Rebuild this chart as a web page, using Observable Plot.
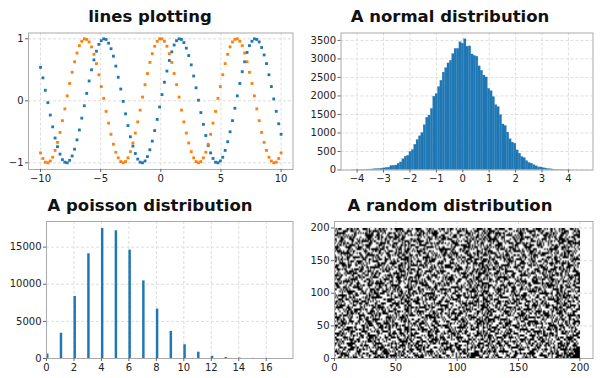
<!DOCTYPE html>
<html>
<head>
<meta charset="utf-8">
<script src="https://cdn.jsdelivr.net/npm/d3@7"></script>
<script src="https://cdn.jsdelivr.net/npm/@observablehq/plot@0.6"></script>
<style>
html,body{margin:0;padding:0;background:#fff;}
#root{position:relative;width:600px;height:378px;overflow:hidden;font-family:"DejaVu Sans",sans-serif;}
#root svg{position:absolute;background:transparent;}
.ttl{position:absolute;width:300px;text-align:center;font:bold 16.5px "DejaVu Sans",sans-serif;color:#111;white-space:nowrap;line-height:20px;}
</style>
</head>
<body>
<div id="root"></div>
<script>
const titles = ["lines plotting","A normal distribution","A poisson distribution","A random distribution"];

const lineX = [-10,-9.8,-9.6,-9.39,-9.19,-8.99,-8.79,-8.59,-8.38,-8.18,-7.98,-7.78,-7.58,-7.37,-7.17,-6.97,-6.77,-6.57,-6.36,-6.16,-5.96,-5.76,-5.56,-5.35,-5.15,-4.95,-4.75,-4.55,-4.34,-4.14,-3.94,-3.74,-3.54,-3.33,-3.13,-2.93,-2.73,-2.53,-2.32,-2.12,-1.92,-1.72,-1.52,-1.31,-1.11,-.91,-.71,-.51,-.3,-.1,.1,.3,.51,.71,.91,1.11,1.31,1.52,1.72,1.92,2.12,2.32,2.53,2.73,2.93,3.13,3.33,3.54,3.74,3.94,4.14,4.34,4.55,4.75,4.95,5.15,5.35,5.56,5.76,5.96,6.16,6.36,6.57,6.77,6.97,7.17,7.37,7.58,7.78,7.98,8.18,8.38,8.59,8.79,8.99,9.19,9.39,9.6,9.8,10];
const blueY = [.54,.37,.17,-.03,-.23,-.42,-.6,-.74,-.86,-.95,-.99,-1,-.96,-.89,-.78,-.63,-.47,-.28,-.08,.12,.32,.5,.66,.8,.91,.97,1,.99,.93,.84,.72,.56,.38,.19,-.01,-.21,-.4,-.58,-.73,-.85,-.94,-.99,-1,-.97,-.9,-.79,-.65,-.48,-.3,-.1,.1,.3,.48,.65,.79,.9,.97,1,.99,.94,.85,.73,.58,.4,.21,.01,-.19,-.38,-.56,-.72,-.84,-.93,-.99,-1,-.97,-.91,-.8,-.66,-.5,-.32,-.12,.08,.28,.47,.63,.78,.89,.96,1,.99,.95,.86,.74,.6,.42,.23,.03,-.17,-.37,-.54];
const orangeY = [-.84,-.93,-.99,-1,-.97,-.91,-.8,-.67,-.51,-.32,-.13,.08,.28,.46,.63,.77,.89,.96,1,.99,.95,.87,.75,.6,.42,.23,.04,-.17,-.36,-.54,-.7,-.83,-.92,-.98,-1,-.98,-.92,-.82,-.68,-.52,-.34,-.15,.06,.26,.44,.62,.76,.88,.96,1,1,.96,.88,.76,.62,.44,.26,.06,-.15,-.34,-.52,-.68,-.82,-.92,-.98,-1,-.98,-.92,-.83,-.7,-.54,-.36,-.17,.04,.23,.42,.6,.75,.87,.95,.99,1,.96,.89,.77,.63,.46,.28,.08,-.13,-.32,-.51,-.67,-.8,-.91,-.97,-1,-.99,-.93,-.84];

const normalLeft = [-4.18,-4.09,-4,-3.91,-3.82,-3.73,-3.64,-3.55,-3.46,-3.37,-3.28,-3.19,-3.1,-3.01,-2.92,-2.83,-2.74,-2.65,-2.56,-2.47,-2.38,-2.29,-2.2,-2.11,-2.02,-1.93,-1.84,-1.75,-1.66,-1.57,-1.48,-1.39,-1.3,-1.21,-1.12,-1.03,-.94,-.85,-.76,-.67,-.58,-.49,-.4,-.31,-.22,-.13,-.04,.05,.14,.23,.32,.41,.5,.59,.68,.77,.86,.95,1.04,1.13,1.22,1.31,1.4,1.49,1.58,1.67,1.76,1.85,1.94,2.03,2.12,2.21,2.3,2.39,2.48,2.57,2.66,2.75,2.84,2.93,3.02,3.11,3.2,3.29,3.38,3.47,3.56,3.65,3.74,3.83,3.92,4.01];
const normalCount = [1,1,1,2,4,5,8,12,14,20,24,27,37,45,58,62,110,115,120,170,205,290,360,385,490,540,680,810,910,1000,1210,1410,1470,1650,1980,2050,2240,2410,2630,2750,2880,2950,3130,3270,3270,3450,3410,3530,3330,3340,3120,3080,3060,2800,2680,2550,2500,2190,2130,1970,1750,1700,1480,1230,1190,1010,830,740,710,530,440,350,320,240,190,170,130,100,70,70,50,40,25,20,12,8,6,4,3,1,1,1];
const normalBinWidth = 0.09;

const poissonX = [0,1,2,3,4,5,6,7,8,9,10,11,12,13,14,15,16];
const poissonCount = [600,3400,8350,14100,17500,17200,14600,10450,6650,3650,1850,850,300,130,50,15,5];
const poissonBinWidth = 0.18;

// Panel 4: hand-typed hex rows (1 bit = 1 column). This is an approximation of the noise
// texture in the picture, not a cell-by-cell reading of it. Each cell takes a quarter of its
// right-hand neighbour, which gives the black, grey and white grain seen in the picture.
const noiseRows = [
"a3c94e17b25d80f6c1e97a346d2fb058e41c7a93d06b2e8f15",
"5e18b7d2093fca61e4728db5f0a6c3941be7d2580c9f36a1e4",
"c07f2a94e6b1358dd92a07c6f3e15b48a09d7c2e6f314b85da",
"16ad3f80c5e792b4a16f0e3d8c5972b1e4d06a3f89c2571be0",
"e9527bc1a4d0863ff5b2c9170de6a348cb1f9520d7e4a6368c",
"38f0d6a2e59b147ca3e8d610f7b52c94075eca1b3d86f209e7",
"b17ce4093da6f285106bf97e2ac4d35893d1e67f0ab52c8416",
"6a4d95f1c8270eb3e9c4a25b07f1d63eb86c3092fa5d7e1c40",
"d2b06e83f17a5c94381ed7f6c2095ab4e07fa3c6185d92eb36",
"0f83a1c7d64e29b5c7a05b3e9f8146d2a95c2be07d3f6184ad",
"97e5c2b4086fd1a36d2fe8013c9ab745f2168db4c7ea0395f6",
"42ca7f1e93b0d586a0b97c4e5d23f1687be4c09a16fd35e82b",
"e806d3a5f2c7914bf316ae8d07c5924a0db37f5e2c8169a4d7",
"7b51f9c04de2a638c9e74b12a6f0d385e6a1c98d430fb7251e",
"2dc6049ea7b3f1856f02d5b8e91c3a7cd0953ea74bf862c1a9",
"a94f7e32d18b6c05b74a1f9e36d0c2851ec8b06d2f95a37f40",
"35e8c1b60f9d27a4e1c83a5d7b264f09a7d42f1e8c63b0d597",
"f06ba2d7e4381c956d95f07c2eb1843ac3f96e0b57da1284ec",
"8c239d5fa16e70b4084eb6c1d3f7a9256b01e8dc4a372f9c15",
"1ea7f4c806d592b3f72c9a4068e5bd13946ac31f7d0be2586d",
"c53d08eb7a92f16431fa5d7ec06b92488d27f5b9e1c3064ae7",
"6f90b1a2ce47d835a6c0e41f93d7258bf1e03c6ba8d45792c1",
"d7421e6c93fb05a8e59db273fa0c6814c2a78f4d0e96b135f8",
"09bce58d37a1642fc1760fae5d92b8e356db1e02f7ca8934a0",
"b3f6927a0ed4c15893e2cb486f07a1d5e8049b7dc5623fae16",
"47a81dc5fb06e392d6b1f75038eca29471c3ea6f928d0b5d34",
"ea056f32c9b8d1740a9d3e6cb1f2587ca65df10783be94c2e6",
"12d9c7e4806af3b5c84f51a2e7d96b03f7b82ea4c09135dd68",
"8fb34a61d29c07e55e07ca93f6b4d1286e14d95c7fa80b32c7",
"c62e05f7b1da9384b3d18f7e025ca6499ac70f36e2d45b1870",
"3a97e1d846cb25f0f26a4c09d8e3175bd05b8e2a946fc137ae",
"f5407cb92e16a8d3197eb2d5c6f40a83e8d316fc05a7b92c54",
"7de19a35086cf4b24ac03e8f1b96d725b29f4dc76e0138a5fb",
"a0368fd2c7e5b1497f152bd6e09ac4386c7ea105d9f3b2486e",
"5cb27e9401fd8a63e6d84f3a71c20b957a03b68ef1cd5942a1",
"e18d53a6bf207c94a2c91e6d05f7b38643fd9127ae6c08b5d9",
"94f60c2ad7e1b583075fb8c3e96d42a1d8a2c5f0b397e16c4e",
"2b7ad18f9c3e0465c36ea1f47d082b9570e9146dcb25f8a37d",
"d06e3b54a2f8c791fb92d4076ec58a13a6c7f3e182d09b4506",
"81c5f97e206db3a4481a3ec6f92d7b05e5b04d79a6f1c2386e",
"6ea3029cd4b71f85d7c6f0598ba14e32392ea8c06d7f514bb8",
"f7491bd86e30a2c5a05d2e7b3c94f1688ec16f35b04d9a27c3",
"3dc8a6e1520f97b4e97b14ca086fd3527fa2d90e64c1b8354f",
"b215f07c93ead64835c0a6f2d1e8b7946d38bc15f720ae9c04",
"06e9d34ab7c1582ffe4812b9c75a0d63c1f7e2a408d95b367a",
"ca73f18e05d2b49673ad9f5e062cb1481a05d6c3ef97b28e4d",
"58b0e6c29f4a7d13c65f0ba3d917e4289ed47b1c036fa5d2e0",
"e42d97a1c3068fb5182ec7f4b6a5d0937c60f9e8a1345db2c6",
"197fbc50e8d24a36a9d63105fc8e72b4f3a2854cd7be06196d",
"a6c13e4f7092db85f47b8ec2d016a395068de1b7f52ca34e97",
"7d05926bacf3e184320ca7f95d6e1bb8c9f47a031ed8526fb3",
"f2e87c1d460b39a5de5143b0a8c7f2961b6a5ed8c04f7392a6",
"04b9d3a7e5f2186c87f2ce96134db0a5e2d0c3f7694a1b85d8",
"c97a58e02fb16d343eb06d7a95f1c2486f857a1e0dc293fb41",
"3e16f4d09b8c27a5a1d94c32e07b6f58b04c2de79a36f5181c",
"8b50c7e2a6d3f1497cf6051eb2d89a34d73ef60a1c95b8e427",
"d4f926a1375eb80ce2184ba7f9036dc5194a8b2ce70d6f3a9b",
"2ac07dbe81f4965346ed1a05c7f2b83970e3d6f49ab15c28e5",
"67e1b90f2ca5d83490b3fe6c48d751a2ac58f17b3264ed09c3",
"f1384ed6a07c92b5c5278da0e1f6493b16bd02a9e8f74c5368",
"ae60d25bc9174f38613cfa84b092de754e9f7c1d85a36b0240",
"15d7c3f89e0ab264f9a06d5e3b17c2488c03a6fe1bd729e5a0",
"c82fa64e1d07953b2ed4b71f6c8a0395d7b6e2480f3c91a210",
"790eb5d3a2c8146f845ac9e36df2017ba3f1c7d69e05b82840",
"e36a1cf7084d5b92d07f28b5ea941c63586d0fa2c7e3b14900"
];
const noiseColumns = 200;

const GRAY="#aaaaaa", GRID="#dddddd";
const base = {width:300,height:189,style:{fontFamily:"DejaVu Sans",fontSize:"10px",background:"transparent",color:"#222"}};
const grid = (xt,yt)=>[
  Plot.gridX(xt,{stroke:GRID,strokeOpacity:1,strokeDasharray:"3,2"}),
  Plot.gridY(yt,{stroke:GRID,strokeOpacity:1,strokeDasharray:"3,2"})
];
const axes = (xt,yt)=>[
  Plot.frame({stroke:GRAY,strokeWidth:1}),
  Plot.axisX(xt,{tickSize:3,tickPadding:2,fontSize:10,label:null,stroke:"#666",fill:"#222",tickFormat:d=>String(d).replace("-","\u2212")}),
  Plot.axisY(yt,{tickSize:3,tickPadding:2,fontSize:10,label:null,stroke:"#666",fill:"#222",tickFormat:d=>String(d).replace("-","\u2212")})
];

const idx = lineX.map((_,i)=>i);
const t1x=[-10,-5,0,5,10], t1y=[-1,0,1];
const p1 = Plot.plot({...base,marginLeft:28,marginRight:7.5,marginTop:32.5,marginBottom:20,
  x:{domain:[-11,10.99]},y:{domain:[-1.108,1.094]},
  marks:[...grid(t1x,t1y),
    Plot.dot(idx,{x:i=>lineX[i],y:i=>blueY[i],symbol:"square",r:1.6,fill:"#1f77b4"}),
    Plot.dot(idx,{x:i=>lineX[i],y:i=>orangeY[i],symbol:"square",r:1.6,fill:"#ff7f0e"}),
    ...axes(t1x,t1y)]});

const t2x=[-4,-3,-2,-1,0,1,2,3,4], t2y=[0,500,1000,1500,2000,2500,3000,3500];
const nIdx = normalLeft.map((_,i)=>i);
const p2 = Plot.plot({...base,marginLeft:40.5,marginRight:7.5,marginTop:32.5,marginBottom:19.5,
  x:{domain:[-4.61,4.93]},y:{domain:[0,3700]},
  marks:[...grid(t2x,t2y),
    Plot.rectY(nIdx,{x1:i=>normalLeft[i],x2:i=>normalLeft[i]+normalBinWidth,y1:0,y2:i=>normalCount[i],fill:"#1f77b4",stroke:"#1f77b4",strokeOpacity:0.55,strokeWidth:0.4}),
    ...axes(t2x,t2y)]});

const t3x=[0,2,4,6,8,10,12,14,16], t3y=[0,5000,10000,15000];
const pIdx = poissonX.map((_,i)=>i);
const p3 = Plot.plot({...base,marginLeft:46,marginRight:7.5,marginTop:32,marginBottom:20,
  x:{domain:[0,17.95]},y:{domain:[0,18450]},
  marks:[...grid(t3x,t3y),
    Plot.rectY(pIdx,{x1:i=>poissonX[i],x2:i=>poissonX[i]+poissonBinWidth,y1:0,y2:i=>poissonCount[i],fill:"#1f77b4"}),
    ...axes(t3x,t3y)]});

const t4=[0,50,100,150,200];
const bit=(r,c)=>(parseInt(noiseRows[r][c>>2],16)>>(3-c%4))&1;
const levels=[];
for(let r=0;r<noiseRows.length;r++) for(let c=0;c<noiseColumns;c++)
  levels.push(0.75*bit(r,c)+0.25*bit(r,Math.min(c+1,noiseColumns-1)));
const p4 = Plot.plot({...base,marginLeft:34,marginRight:7.5,marginTop:32,marginBottom:20,
  x:{domain:[0,210.7]},y:{domain:[0,210]},
  color:{type:"linear",domain:[0,1],range:["#000000","#ffffff"]},
  marks:[...grid(t4,t4),
    Plot.raster(levels,{width:noiseColumns,height:noiseRows.length,x1:0,x2:200,y1:200,y2:0,fill:d=>d,imageRendering:"auto"}),
    ...axes(t4,t4)]});

const root=document.getElementById("root");
[[p1,0,0],[p2,300,0],[p3,0,189],[p4,300,189]].forEach(([p,l,t],i)=>{
  p.style.left=l+"px";p.style.top=t+"px";root.appendChild(p);
  const d=document.createElement("div");d.className="ttl";d.textContent=titles[i];
  d.style.left=l+"px";d.style.top=(t+7)+"px";root.appendChild(d);
});
</script>
</body>
</html>
